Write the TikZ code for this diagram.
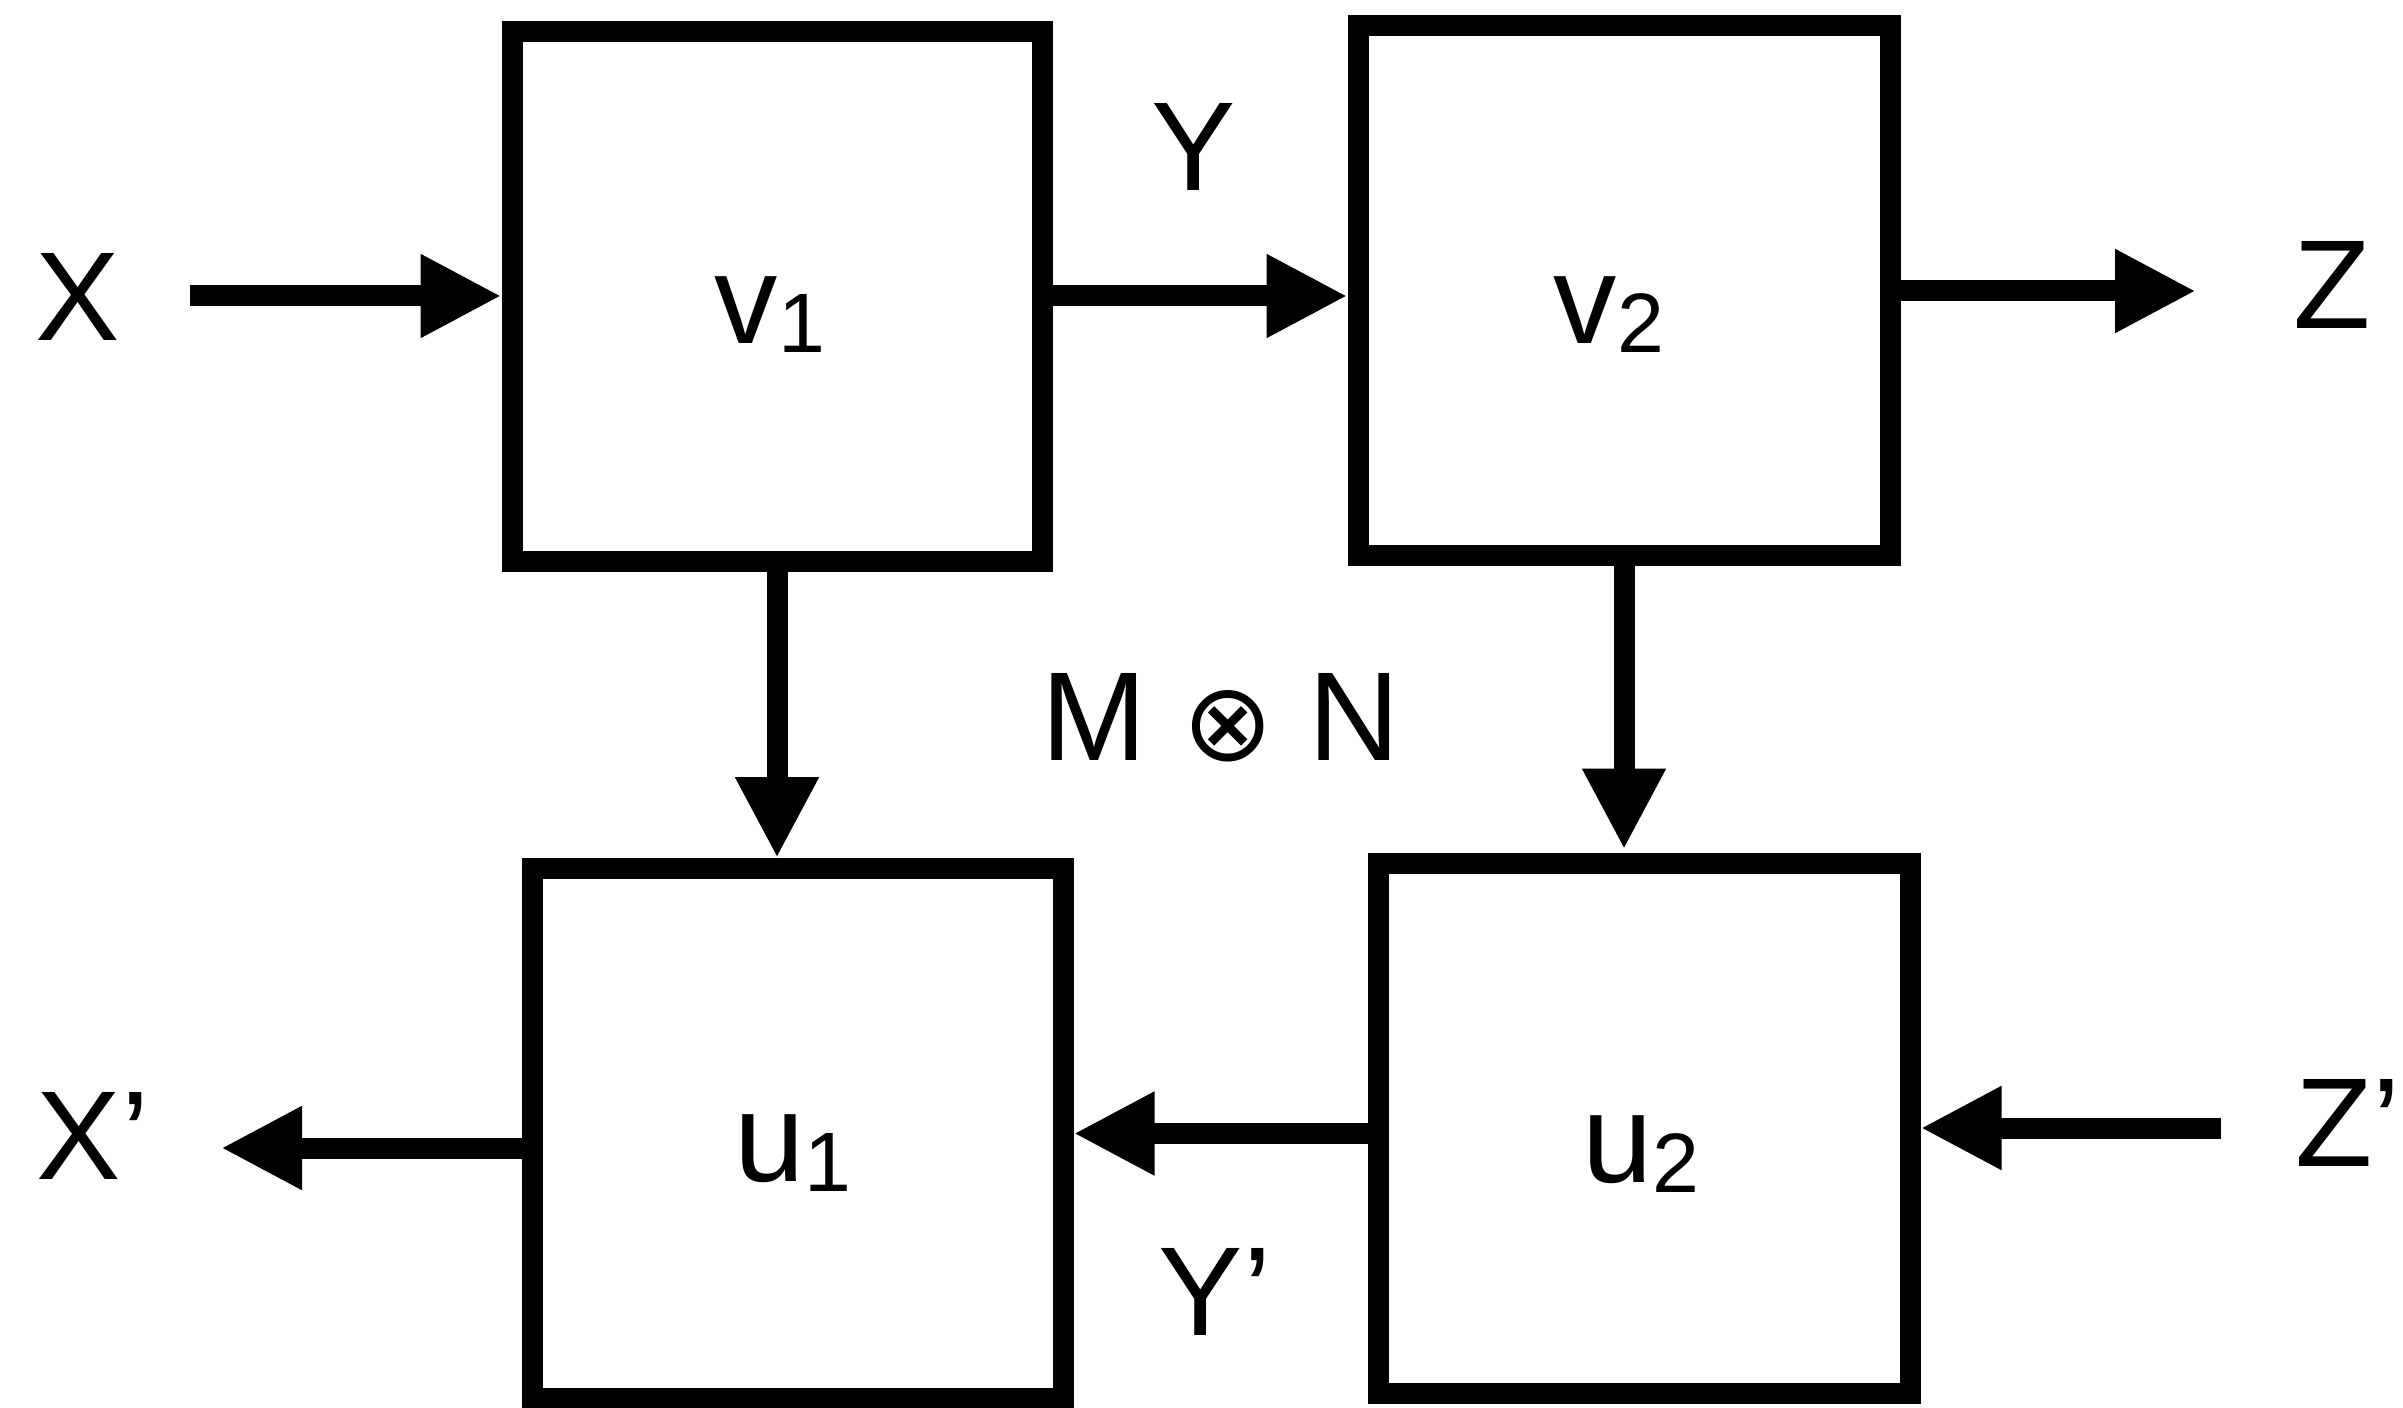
\documentclass[tikz,border=0pt]{standalone}
\usepackage{fontspec}
\setmainfont{Liberation Sans}
\newfontfamily\symfont{DejaVu Sans}
\usetikzlibrary{arrows.meta}
\newcommand{\idx}[1]{\raisebox{-2.6pt}{\fontsize{24}{24}\selectfont #1}}

\begin{document}
\begin{tikzpicture}[x=0.1mm, y=-0.1mm, line width=2.1mm,
  blk/.style={draw, inner sep=0pt, minimum width=53mm, minimum height=53mm},
  arr/.style={-{Triangle[length=8.1mm, width=7.8mm]}},
  lbl/.style={inner sep=0pt, font=\fontsize{36}{36}\selectfont}]
  \useasboundingbox (0,0) rectangle (2403,1408);
  % boxes
  \node[blk] (v1) at (777,296.5) {};
  \node[blk, minimum width=53.2mm] (v2) at (1624,290.5) {};
  \node[blk, minimum width=53.1mm] (u1) at (797.5,1133.5) {};
  \node[blk, minimum width=53.2mm] (u2) at (1644,1128) {};
  \node[lbl] at (770,315) {v\idx{1}};
  \node[lbl] at (1609,315) {v\idx{2}};
  \node[lbl] at (793,1153) {u\idx{1}};
  \node[lbl] at (1641,1154) {u\idx{2}};
  % outer labels
  \node[lbl] (x) at (78,297) {X};
  \node[lbl] (y) at (1194,147) {Y};
  \node[lbl] (z) at (2332,285) {Z};
  \node[lbl] (xx) at (93,1136) {X’};
  \node[lbl] (yy) at (1215,1292) {Y’};
  \node[lbl] (zz) at (2348,1123) {Z’};
  \node[lbl] (mn) at (1221,718) {M {\symfont\fontsize{31}{31}\selectfont ⊗} N};
  % free ends
  \coordinate (xin) at (190,296);
  \coordinate (zout) at (2196,291);
  \coordinate (zin) at (2221,1128);
  \coordinate (xout) at (221,1148);
  % connectors
  \draw[arr] (xin) -- (xin -| v1.west);
  \draw[arr] (v1.east |- xin) -- (xin -| v2.west);
  \draw[arr] (v2.east |- zout) -- (zout);
  \draw[arr] (v1.south) -- (v1.south |- u1.north);
  \draw[arr, shorten >=0.3mm] (v2.south) -- (v2.south |- u2.north);
  \draw[arr] (zin) -- (zin -| u2.east);
  \draw[arr] (u2.west |- u1.east) -- (u1.east);
  \draw[arr] (u1.west |- xout) -- (xout);
\end{tikzpicture}
\end{document}
